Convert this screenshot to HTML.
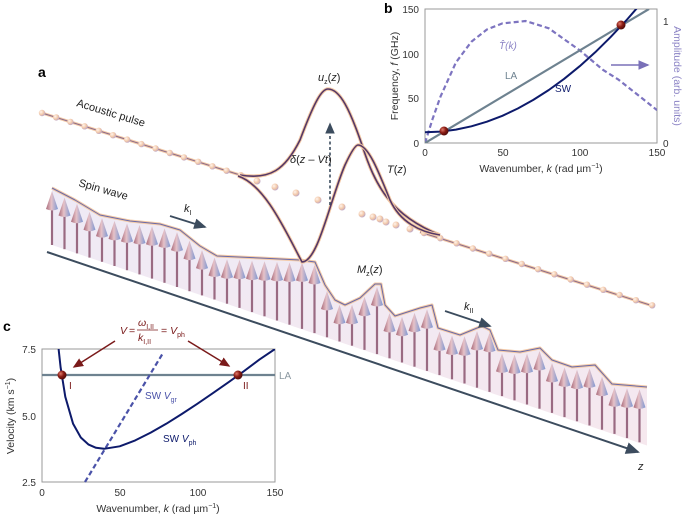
<!DOCTYPE html>
<html><head><meta charset="utf-8"><style>
html,body{margin:0;padding:0;background:#fff}
svg{display:block;font-family:"Liberation Sans",sans-serif}
</style></head><body>
<svg width="685" height="516" viewBox="0 0 685 516" xmlns="http://www.w3.org/2000/svg">
<defs>
<linearGradient id="cone" x1="0" x2="1" y1="0" y2="0">
<stop offset="0" stop-color="#a86a7a"/><stop offset="0.45" stop-color="#e6c2c8"/><stop offset="1" stop-color="#7f98d2"/>
</linearGradient>
<linearGradient id="fillg" x1="0" x2="0" y1="0" y2="1">
<stop offset="0" stop-color="#eeeaf6"/><stop offset="1" stop-color="#f6e8ee"/>
</linearGradient>
<radialGradient id="ball" cx="0.35" cy="0.35" r="0.7"><stop offset="0" stop-color="#fff4ec"/><stop offset="0.6" stop-color="#f1c7a8"/><stop offset="1" stop-color="#b9a4c8"/></radialGradient>
<radialGradient id="red" cx="0.35" cy="0.35" r="0.7"><stop offset="0" stop-color="#e07a6a"/><stop offset="0.5" stop-color="#8a1c14"/><stop offset="1" stop-color="#4a0a08"/></radialGradient>
<marker id="ah" markerWidth="8" markerHeight="8" refX="6" refY="3" orient="auto"><path d="M0,0 L7,3 L0,6 z" fill="#3c4c5e"/></marker>
<marker id="ar" markerWidth="8" markerHeight="8" refX="6" refY="3" orient="auto"><path d="M0,0 L7,3 L0,6 z" fill="#7a1a1a"/></marker>
<marker id="ap" markerWidth="8" markerHeight="8" refX="6" refY="3" orient="auto"><path d="M0,0 L7,3 L0,6 z" fill="#7a70b8"/></marker>
<path id="cn" d="M-6,18 L0,0 L6,18 Q0,21 -6,18Z" fill="url(#cone)"/>
<clipPath id="cb"><rect x="425" y="9" width="232" height="134"/></clipPath>
<clipPath id="cc"><rect x="42" y="349" width="233" height="133"/></clipPath>
</defs>

<!-- spin wave -->
<path d="M52,245 L52,188 L75,200 L100,215 L130,221 L160,224 L180,230 L200,246 L217,256 L260,258 L300,260 L315,262 L325,285 L335,300 L345,305 L360,298 L375,284 L381,284 L385,305 L395,316 L420,308 L432,305 L438,328 L460,335 L482,326 L490,330 L498,350 L520,352 L540,348 L552,360 L572,367 L595,365 L612,384 L647,387 L647,445.5 Z" fill="url(#fillg)"/>
<g stroke="#9a6a82" stroke-width="2.2">
<line x1="52" y1="245" x2="52" y2="203"/><line x1="64.5" y1="249.2" x2="64.5" y2="209.5"/><line x1="77" y1="253.4" x2="77" y2="215.8"/><line x1="89.5" y1="257.6" x2="89.5" y2="223.7"/><line x1="102" y1="261.8" x2="102" y2="230.1"/><line x1="114.5" y1="266" x2="114.5" y2="232.9"/><line x1="127" y1="270.2" x2="127" y2="235.4"/><line x1="139.5" y1="274.4" x2="139.5" y2="237"/><line x1="152" y1="278.6" x2="152" y2="238.2"/><line x1="164.5" y1="282.8" x2="164.5" y2="240.4"/><line x1="177" y1="287" x2="177" y2="244.1"/><line x1="189.5" y1="291.2" x2="189.5" y2="252.6"/><line x1="202" y1="295.4" x2="202" y2="262.1"/><line x1="214.5" y1="299.5" x2="214.5" y2="269.5"/><line x1="227" y1="303.7" x2="227" y2="271.2"/><line x1="239.5" y1="307.9" x2="239.5" y2="271.8"/><line x1="252" y1="312.1" x2="252" y2="272.6"/><line x1="264.5" y1="316.3" x2="264.5" y2="273.2"/><line x1="277" y1="320.5" x2="277" y2="273.9"/><line x1="289.5" y1="324.7" x2="289.5" y2="274.5"/><line x1="302" y1="328.9" x2="302" y2="274.4"/><line x1="314.5" y1="333.1" x2="314.5" y2="277"/><line x1="327" y1="337.3" x2="327" y2="303"/><line x1="339.5" y1="341.5" x2="339.5" y2="316.8"/><line x1="352" y1="345.7" x2="352" y2="316.7"/><line x1="364.5" y1="349.9" x2="364.5" y2="308.8"/><line x1="377" y1="354.1" x2="377" y2="299"/><line x1="389.5" y1="358.3" x2="389.5" y2="325"/><line x1="402" y1="362.5" x2="402" y2="328.8"/><line x1="414.5" y1="366.7" x2="414.5" y2="324.8"/><line x1="427" y1="370.9" x2="427" y2="321.3"/><line x1="439.5" y1="375.1" x2="439.5" y2="343.5"/><line x1="452" y1="379.3" x2="452" y2="347.5"/><line x1="464.5" y1="383.5" x2="464.5" y2="348.2"/><line x1="477" y1="387.7" x2="477" y2="343"/><line x1="489.5" y1="391.9" x2="489.5" y2="344.8"/><line x1="502" y1="396.1" x2="502" y2="365.4"/><line x1="514.5" y1="400.3" x2="514.5" y2="366.5"/><line x1="527" y1="404.5" x2="527" y2="365.6"/><line x1="539.5" y1="408.7" x2="539.5" y2="363"/><line x1="552" y1="412.9" x2="552" y2="375"/><line x1="564.5" y1="417.1" x2="564.5" y2="379.4"/><line x1="577" y1="421.3" x2="577" y2="381.6"/><line x1="589.5" y1="425.5" x2="589.5" y2="380.4"/><line x1="602" y1="429.7" x2="602" y2="388.6"/><line x1="614.5" y1="433.9" x2="614.5" y2="399.2"/><line x1="627" y1="438.1" x2="627" y2="400.3"/><line x1="639.5" y1="442.3" x2="639.5" y2="401.4"/>
</g>
<g>
<use href="#cn" x="52" y="191"/><use href="#cn" x="64.5" y="197.5"/><use href="#cn" x="77" y="203.8"/><use href="#cn" x="89.5" y="211.7"/><use href="#cn" x="102" y="218.1"/><use href="#cn" x="114.5" y="220.9"/><use href="#cn" x="127" y="223.4"/><use href="#cn" x="139.5" y="225"/><use href="#cn" x="152" y="226.2"/><use href="#cn" x="164.5" y="228.4"/><use href="#cn" x="177" y="232.1"/><use href="#cn" x="189.5" y="240.6"/><use href="#cn" x="202" y="250.1"/><use href="#cn" x="214.5" y="257.5"/><use href="#cn" x="227" y="259.2"/><use href="#cn" x="239.5" y="259.8"/><use href="#cn" x="252" y="260.6"/><use href="#cn" x="264.5" y="261.2"/><use href="#cn" x="277" y="261.9"/><use href="#cn" x="289.5" y="262.5"/><use href="#cn" x="302" y="262.4"/><use href="#cn" x="314.5" y="265"/><use href="#cn" x="327" y="291"/><use href="#cn" x="339.5" y="304.8"/><use href="#cn" x="352" y="304.7"/><use href="#cn" x="364.5" y="296.8"/><use href="#cn" x="377" y="287"/><use href="#cn" x="389.5" y="313"/><use href="#cn" x="402" y="316.8"/><use href="#cn" x="414.5" y="312.8"/><use href="#cn" x="427" y="309.3"/><use href="#cn" x="439.5" y="331.5"/><use href="#cn" x="452" y="335.5"/><use href="#cn" x="464.5" y="336.2"/><use href="#cn" x="477" y="331"/><use href="#cn" x="489.5" y="332.8"/><use href="#cn" x="502" y="353.4"/><use href="#cn" x="514.5" y="354.5"/><use href="#cn" x="527" y="353.6"/><use href="#cn" x="539.5" y="351"/><use href="#cn" x="552" y="363"/><use href="#cn" x="564.5" y="367.4"/><use href="#cn" x="577" y="369.6"/><use href="#cn" x="589.5" y="368.4"/><use href="#cn" x="602" y="376.6"/><use href="#cn" x="614.5" y="387.2"/><use href="#cn" x="627" y="388.3"/><use href="#cn" x="639.5" y="389.4"/>
</g>
<path id="env" d="M52,188 L75,200 L100,215 L130,221 L160,224 L180,230 L200,246 L217,256 L260,258 L300,260 L315,262 L325,285 L335,300 L345,305 L360,298 L375,284 L381,284 L385,305 L395,316 L420,308 L432,305 L438,328 L460,335 L482,326 L490,330 L498,350 L520,352 L540,348 L552,360 L572,367 L595,365 L612,384 L647,387" fill="none" stroke="#f3c9a6" stroke-width="3" stroke-linejoin="round"/>
<path d="M52,188 L75,200 L100,215 L130,221 L160,224 L180,230 L200,246 L217,256 L260,258 L300,260 L315,262 L325,285 L335,300 L345,305 L360,298 L375,284 L381,284 L385,305 L395,316 L420,308 L432,305 L438,328 L460,335 L482,326 L490,330 L498,350 L520,352 L540,348 L552,360 L572,367 L595,365 L612,384 L647,387" fill="none" stroke="#6a6aa8" stroke-width="1" stroke-linejoin="round"/>

<!-- z axis -->
<line x1="47" y1="252" x2="638" y2="452" stroke="#3c4c5e" stroke-width="2" marker-end="url(#ah)"/>
<text x="638" y="470" font-size="11" font-style="italic" fill="#222">z</text>

<!-- acoustic -->
<line x1="42" y1="113" x2="240" y2="175" stroke="#f3c9a6" stroke-width="3"/>
<line x1="42" y1="113" x2="240" y2="175" stroke="#8a6a8a" stroke-width="1"/>
<line x1="420" y1="232" x2="653" y2="306" stroke="#f3c9a6" stroke-width="3"/>
<line x1="420" y1="232" x2="653" y2="306" stroke="#8a6a8a" stroke-width="1"/>
<g fill="url(#ball)">
<circle cx="42" cy="113" r="3.2"/><circle cx="56.2" cy="117.4" r="3.2"/><circle cx="70.4" cy="121.9" r="3.2"/><circle cx="84.6" cy="126.3" r="3.2"/><circle cx="98.8" cy="130.8" r="3.2"/><circle cx="113" cy="135.2" r="3.2"/><circle cx="127.2" cy="139.6" r="3.2"/><circle cx="141.4" cy="144.1" r="3.2"/><circle cx="155.6" cy="148.5" r="3.2"/><circle cx="169.8" cy="153" r="3.2"/><circle cx="184" cy="157.4" r="3.2"/><circle cx="198.2" cy="161.8" r="3.2"/><circle cx="212.4" cy="166.3" r="3.2"/><circle cx="226.6" cy="170.7" r="3.2"/><circle cx="240.8" cy="175.2" r="3.2"/>
<circle cx="257" cy="181" r="3.5"/><circle cx="275" cy="187" r="3.5"/><circle cx="296" cy="193" r="3.5"/><circle cx="318" cy="200" r="3.5"/><circle cx="342" cy="207" r="3.5"/><circle cx="362" cy="214" r="3.5"/><circle cx="373" cy="217" r="3.5"/><circle cx="380" cy="219" r="3.5"/><circle cx="386" cy="222" r="3.5"/><circle cx="396" cy="225" r="3.5"/><circle cx="410" cy="229" r="3.5"/>
<circle cx="424" cy="233" r="3.2"/><circle cx="440.3" cy="238.2" r="3.2"/><circle cx="456.6" cy="243.3" r="3.2"/><circle cx="472.9" cy="248.5" r="3.2"/><circle cx="489.2" cy="253.7" r="3.2"/><circle cx="505.5" cy="258.8" r="3.2"/><circle cx="521.8" cy="264" r="3.2"/><circle cx="538.1" cy="269.2" r="3.2"/><circle cx="554.4" cy="274.3" r="3.2"/><circle cx="570.7" cy="279.5" r="3.2"/><circle cx="587" cy="284.7" r="3.2"/><circle cx="603.3" cy="289.8" r="3.2"/><circle cx="619.6" cy="295" r="3.2"/><circle cx="635.9" cy="300.2" r="3.2"/><circle cx="652.2" cy="305.3" r="3.2"/>
</g>
<path d="M240,175 C270,180 285,170 300,140 C315,100 322,89 328,89 C340,89 350,110 362,145 C375,185 390,215 440,235" fill="none" stroke="#f3c9a6" stroke-width="3.5"/>
<path d="M240,175 C270,180 285,170 300,140 C315,100 322,89 328,89 C340,89 350,110 362,145 C375,185 390,215 440,235" fill="none" stroke="#553866" stroke-width="1.6"/>
<path d="M238,176 C265,185 285,230 302,262 C318,262 330,200 345,165 C352,150 356,145 358,145 C368,145 378,170 390,200 C400,222 420,232 440,235" fill="none" stroke="#f3c9a6" stroke-width="3.5"/>
<path d="M238,176 C265,185 285,230 302,262 C318,262 330,200 345,165 C352,150 356,145 358,145 C368,145 378,170 390,200 C400,222 420,232 440,235" fill="none" stroke="#553866" stroke-width="1.6"/>
<line x1="330" y1="205" x2="330" y2="124" stroke="#3c4c5e" stroke-width="1.6" stroke-dasharray="3,2.5" marker-end="url(#ah)"/>
<text x="290" y="163" font-size="11" fill="#222"><tspan font-style="italic">δ</tspan>(<tspan font-style="italic">z</tspan> – <tspan font-style="italic">Vt</tspan>)</text>
<text x="318" y="81" font-size="11" fill="#222"><tspan font-style="italic">u</tspan><tspan font-size="7" dy="3">z</tspan><tspan dy="-3">(</tspan><tspan font-style="italic">z</tspan>)</text>
<text x="387" y="173" font-size="11" fill="#222"><tspan font-style="italic">T</tspan>(<tspan font-style="italic">z</tspan>)</text>
<text x="357" y="273" font-size="11" fill="#222"><tspan font-style="italic">M</tspan><tspan font-size="7" dy="3">z</tspan><tspan dy="-3">(</tspan><tspan font-style="italic">z</tspan>)</text>
<text transform="translate(76,106) rotate(17)" font-size="11" fill="#222">Acoustic pulse</text>
<text transform="translate(78,186) rotate(16)" font-size="11" fill="#222">Spin wave</text>
<line x1="170" y1="216" x2="205" y2="227" stroke="#3c4c5e" stroke-width="1.8" marker-end="url(#ah)"/>
<text x="184" y="212" font-size="11" font-style="italic" fill="#222">k<tspan font-size="7" font-style="normal" dy="3">I</tspan></text>
<line x1="445" y1="311" x2="490" y2="326" stroke="#3c4c5e" stroke-width="1.8" marker-end="url(#ah)"/>
<text x="464" y="310" font-size="11" font-style="italic" fill="#222">k<tspan font-size="7" font-style="normal" dy="3">II</tspan></text>
<text x="38" y="77" font-size="14" font-weight="bold">a</text>

<!-- panel b -->
<text x="384" y="13" font-size="14" font-weight="bold">b</text>
<rect x="425" y="9" width="232" height="134" fill="#fff" stroke="#999" stroke-width="1"/>
<g font-size="10" fill="#333">
<text x="419" y="13" text-anchor="end">150</text><text x="419" y="58" text-anchor="end">100</text><text x="419" y="102" text-anchor="end">50</text><text x="419" y="147" text-anchor="end">0</text>
<text x="425" y="156" text-anchor="middle">0</text><text x="503" y="156" text-anchor="middle">50</text><text x="580" y="156" text-anchor="middle">100</text><text x="657" y="156" text-anchor="middle">150</text>
<text x="663" y="25">1</text><text x="663" y="147">0</text>
<text x="541" y="172" text-anchor="middle" font-size="10.5">Wavenumber, <tspan font-style="italic">k</tspan> (rad µm<tspan font-size="7" dy="-4">−1</tspan><tspan dy="4">)</tspan></text>
<text transform="translate(398,76) rotate(-90)" text-anchor="middle" font-size="10.5">Frequency, <tspan font-style="italic">f</tspan> (GHz)</text>
</g>
<text transform="translate(674,76) rotate(90)" text-anchor="middle" font-size="10.5" fill="#8a82c4">Amplitude (arb. units)</text>
<g clip-path="url(#cb)">
<path d="M425,143 L432.7,118.6 L440.5,96.6 L455.9,62.5 L471.4,41.7 L486.9,29.5 L502.4,23.4 L525.6,21 L548.8,28.3 L579.7,50.3 L602.9,69.8 L618.4,79.6 L641.6,97.9 L657,110.1" fill="none" stroke="#7d74c0" stroke-width="2.2" stroke-dasharray="5,3" stroke-linejoin="round"/>
<line x1="425" y1="143" x2="649" y2="9" stroke="#6e8290" stroke-width="2.2"/>
<path d="M425,132.3 L440.5,131.6 L455.9,129.6 L471.4,126.3 L486.9,121.7 L502.4,115.8 L517.8,108.5 L533.3,99.9 L548.8,90 L564.2,78.8 L579.7,66.2 L595.2,52.3 L610.6,37.1 L626.1,20.6 L641.6,2.8" fill="none" stroke="#0d1a6b" stroke-width="2" stroke-linejoin="round"/>
</g>
<circle cx="444" cy="131" r="4.5" fill="url(#red)"/>
<circle cx="621" cy="25" r="4.5" fill="url(#red)"/>
<line x1="611" y1="65" x2="648" y2="65" stroke="#7a70b8" stroke-width="1.6" marker-end="url(#ap)"/>
<text x="499" y="49" font-size="10" font-style="italic" fill="#8a82c4">T̂(k)</text>
<text x="505" y="79" font-size="10" fill="#6e8290">LA</text>
<text x="555" y="92" font-size="10" fill="#0d1a6b">SW</text>

<!-- panel c -->
<text x="3" y="331" font-size="14" font-weight="bold">c</text>
<rect x="42" y="349" width="233" height="133" fill="#fff" stroke="#999" stroke-width="1"/>
<g font-size="10" fill="#333">
<text x="36" y="353" text-anchor="end">7.5</text><text x="36" y="420" text-anchor="end">5.0</text><text x="36" y="486" text-anchor="end">2.5</text>
<text x="42" y="496" text-anchor="middle">0</text><text x="120" y="496" text-anchor="middle">50</text><text x="198" y="496" text-anchor="middle">100</text><text x="275" y="496" text-anchor="middle">150</text>
<text x="158" y="512" text-anchor="middle" font-size="10.5">Wavenumber, <tspan font-style="italic">k</tspan> (rad µm<tspan font-size="7" dy="-4">−1</tspan><tspan dy="4">)</tspan></text>
<text transform="translate(14,416) rotate(-90)" text-anchor="middle" font-size="10.5">Velocity (km s<tspan font-size="7" dy="-4">−1</tspan><tspan dy="4">)</tspan></text>
</g>
<line x1="42" y1="375" x2="275" y2="375" stroke="#6e8290" stroke-width="2.2"/>
<text x="279" y="379" font-size="10" fill="#8a97a0">LA</text>
<line x1="85" y1="482" x2="163" y2="353" stroke="#4a52a8" stroke-width="2.2" stroke-dasharray="5,3"/>
<path clip-path="url(#cc)" d="M58.6,349 L60.6,367.3 L65.3,396.8 L73.1,423.8 L80.8,437.5 L88.6,444.6 L96,447.8 L104.1,448.8 L119.7,446.3 L135.2,440.4 L150.7,432.6 L166.2,423.8 L181.8,414 L197.3,403.8 L212.8,393.2 L228.4,382.3 L243.9,371.2 L259.4,359.6 L275,349" fill="none" stroke="#0d1a6b" stroke-width="2" stroke-linejoin="round"/>
<circle cx="62" cy="375" r="4.5" fill="url(#red)"/>
<circle cx="238" cy="375" r="4.5" fill="url(#red)"/>
<text x="69" y="389" font-size="10" fill="#7a1a1a">I</text>
<text x="243" y="389" font-size="10" fill="#7a1a1a">II</text>
<line x1="115" y1="341" x2="74" y2="367" stroke="#7a1a1a" stroke-width="1.5" marker-end="url(#ar)"/>
<line x1="188" y1="341" x2="229" y2="366" stroke="#7a1a1a" stroke-width="1.5" marker-end="url(#ar)"/>
<g font-size="10.5" fill="#7a1a1a">
<text x="120" y="334" font-style="italic">V</text><text x="129" y="334">=</text>
<text x="138" y="326" font-style="italic">ω<tspan font-size="7" font-style="normal" dy="3">I,II</tspan></text>
<line x1="137" y1="330" x2="158" y2="330" stroke="#7a1a1a" stroke-width="0.8"/>
<text x="138" y="341" font-style="italic">k<tspan font-size="7" font-style="normal" dy="3">I,II</tspan></text>
<text x="161" y="334">= <tspan font-style="italic">V</tspan><tspan font-size="7" dy="3">ph</tspan></text>
</g>
<text x="145" y="399" font-size="10" fill="#4a52a8">SW <tspan font-style="italic">V</tspan><tspan font-size="7" dy="3">gr</tspan></text>
<text x="163" y="442" font-size="10" fill="#0d1a6b">SW <tspan font-style="italic">V</tspan><tspan font-size="7" dy="3">ph</tspan></text>
</svg>
</body></html>
